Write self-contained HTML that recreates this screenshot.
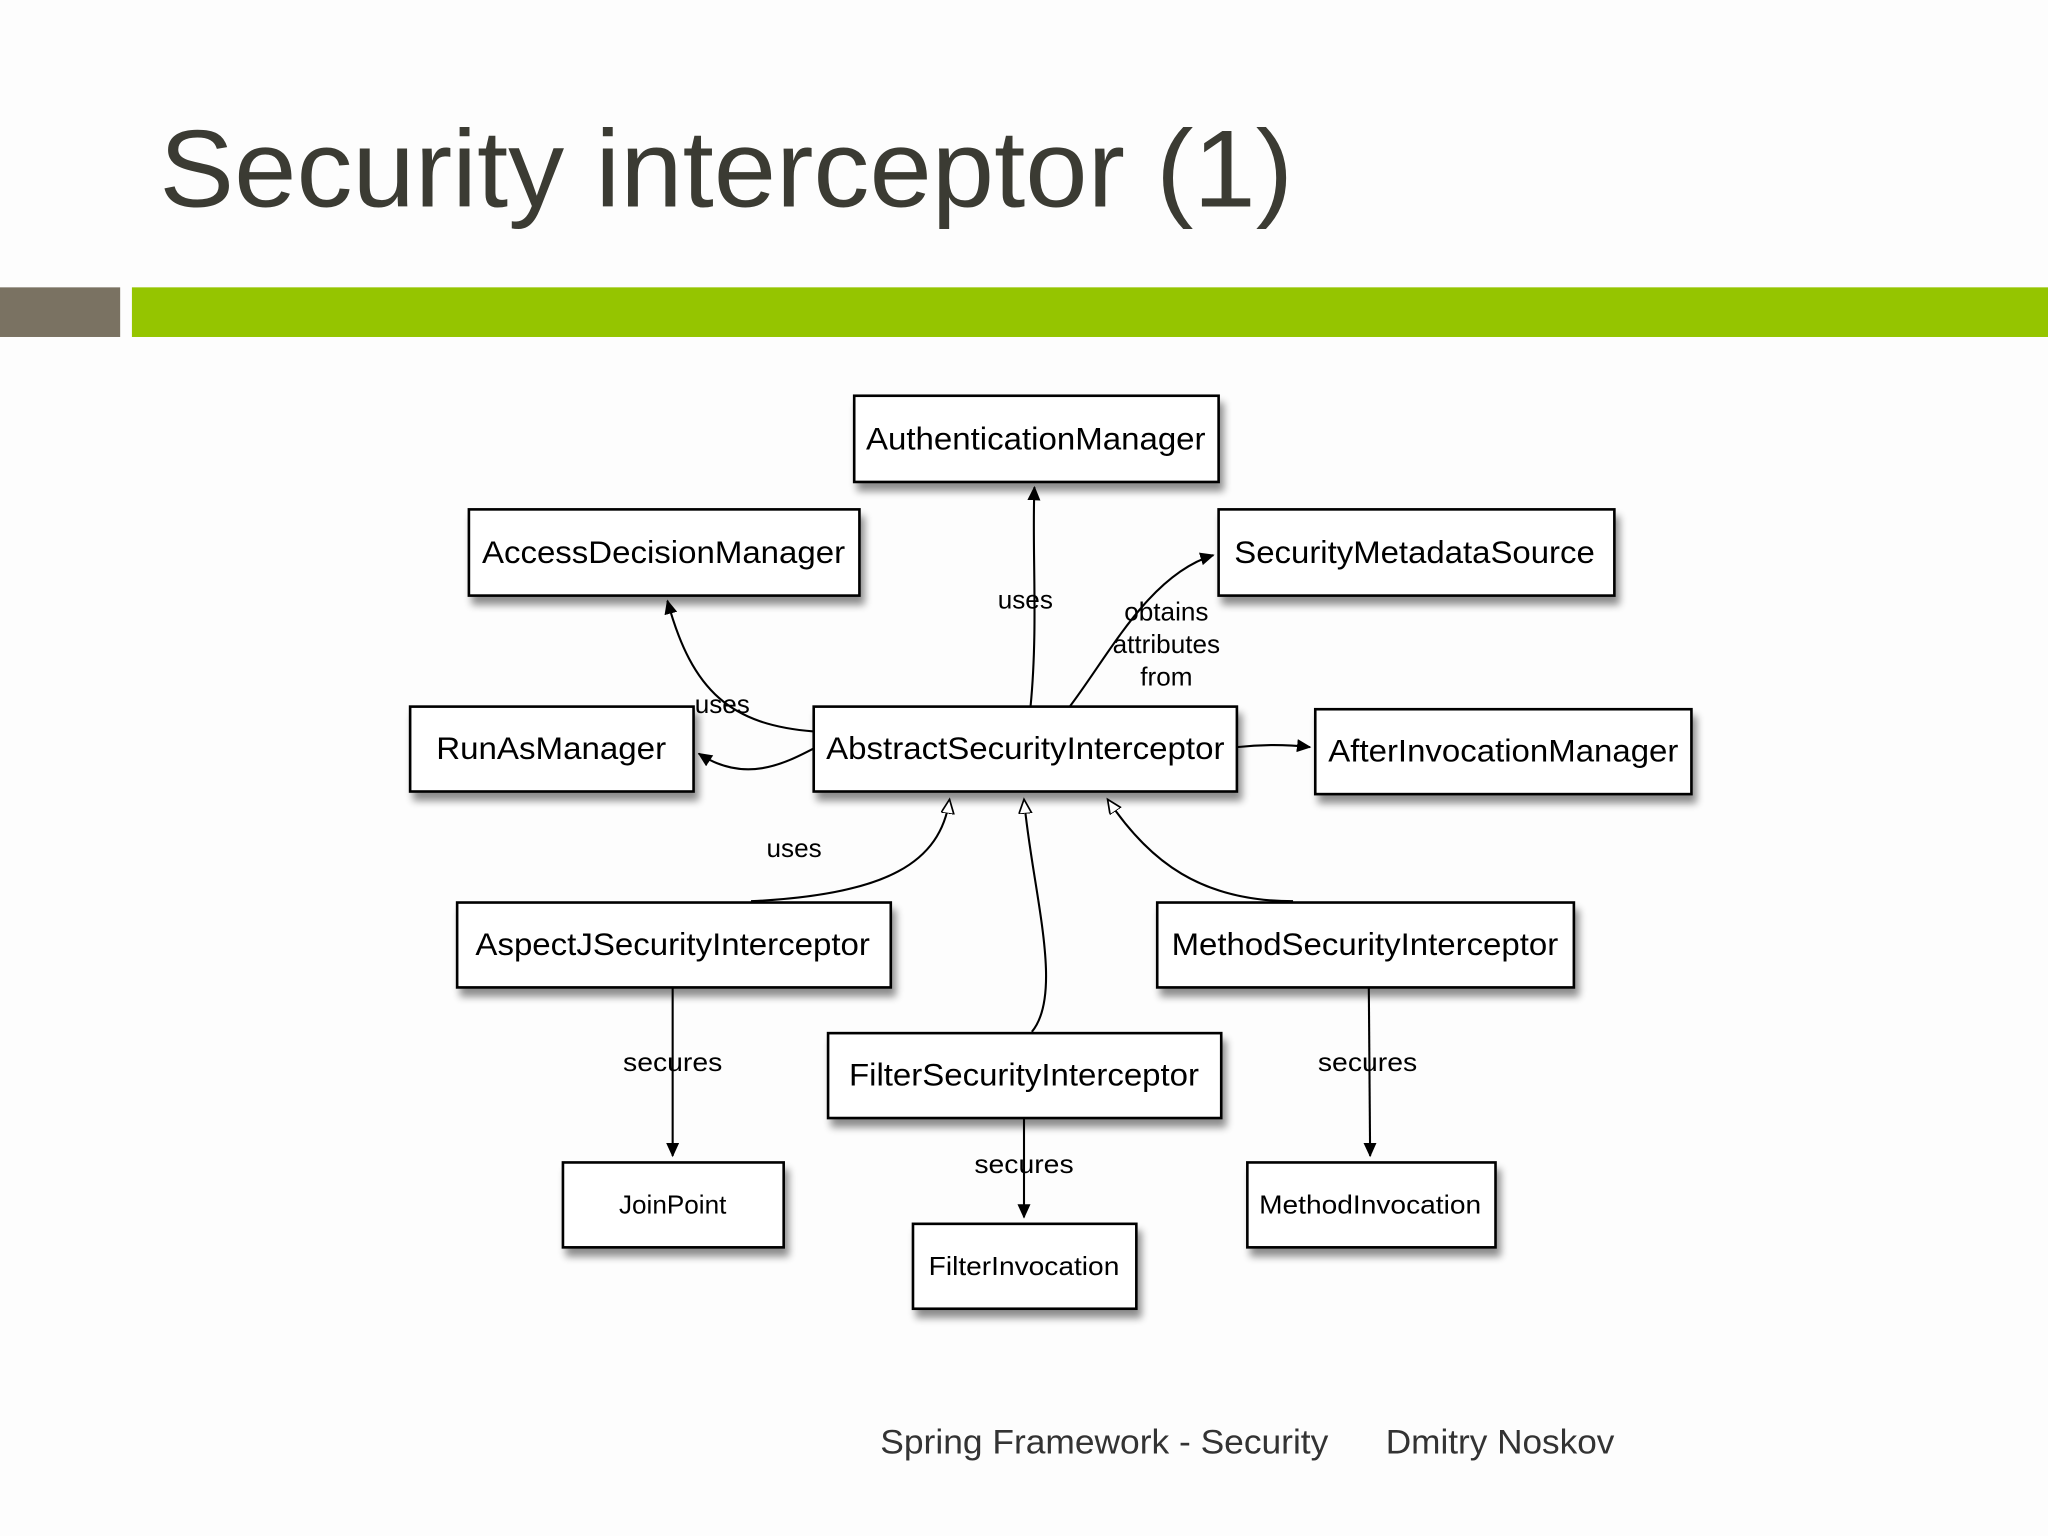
<!DOCTYPE html>
<html><head><meta charset="utf-8"><style>
html,body{margin:0;padding:0;background:#fff;}
svg{display:block;}
text{font-family:"Liberation Sans",sans-serif;}
</style></head><body>
<svg width="2048" height="1536" viewBox="0 0 1568 1176" xmlns="http://www.w3.org/2000/svg">
<defs>
<filter id="sh" x="-10%" y="-20%" width="130%" height="160%">
<feGaussianBlur in="SourceAlpha" stdDeviation="3"/>
<feOffset dx="3" dy="6"/>
<feComponentTransfer><feFuncA type="linear" slope="0.45"/></feComponentTransfer>
<feMerge><feMergeNode/><feMergeNode in="SourceGraphic"/></feMerge>
</filter>
<marker id="af" markerWidth="12" markerHeight="12" refX="10" refY="5" orient="auto" markerUnits="userSpaceOnUse"><path d="M0,0 L11,5 L0,10 z" fill="#000"/></marker>
<marker id="ao" markerWidth="14" markerHeight="14" refX="11" refY="5" orient="auto" markerUnits="userSpaceOnUse"><path d="M0,0 L11,5 L0,10 z" fill="#fff" stroke="#000" stroke-width="1.3"/></marker>
</defs>
<rect width="1568" height="1176" fill="#fdfdfd"/>
<text x="122" y="158" font-size="84" fill="#3b3b33" textLength="868" lengthAdjust="spacingAndGlyphs">Security interceptor (1)</text>
<rect x="0" y="220" width="92" height="38" fill="#7a7262"/>
<rect x="101" y="220" width="1467" height="38" fill="#95c500"/>

<g filter="url(#sh)" fill="#fff" stroke="#000" stroke-width="2">
<rect x="654" y="303" width="279" height="66"/>
<rect x="359" y="390" width="299" height="66"/>
<rect x="933" y="390" width="303" height="66"/>
<rect x="314" y="541" width="217" height="65"/>
<rect x="623" y="541" width="324" height="65"/>
<rect x="1007" y="543" width="288" height="65"/>
<rect x="350" y="691" width="332" height="65"/>
<rect x="886" y="691" width="319" height="65"/>
<rect x="634" y="791" width="301" height="65"/>
<rect x="431" y="890" width="169" height="65"/>
<rect x="699" y="937" width="171" height="65"/>
<rect x="955" y="890" width="190" height="65"/>
</g>

<g font-size="24" text-anchor="middle" fill="#000" lengthAdjust="spacingAndGlyphs">
<text x="793" y="344" textLength="260" lengthAdjust="spacingAndGlyphs">AuthenticationManager</text>
<text x="508" y="431" textLength="278" lengthAdjust="spacingAndGlyphs">AccessDecisionManager</text>
<text x="1083" y="431" textLength="276" lengthAdjust="spacingAndGlyphs">SecurityMetadataSource</text>
<text x="422" y="581" textLength="176" lengthAdjust="spacingAndGlyphs">RunAsManager</text>
<text x="785" y="581" textLength="305" lengthAdjust="spacingAndGlyphs">AbstractSecurityInterceptor</text>
<text x="1151" y="583" textLength="268" lengthAdjust="spacingAndGlyphs">AfterInvocationManager</text>
<text x="515" y="731" textLength="302" lengthAdjust="spacingAndGlyphs">AspectJSecurityInterceptor</text>
<text x="1045" y="731" textLength="296" lengthAdjust="spacingAndGlyphs">MethodSecurityInterceptor</text>
<text x="784" y="831" textLength="268" lengthAdjust="spacingAndGlyphs">FilterSecurityInterceptor</text>
</g>
<g font-size="20" text-anchor="middle" fill="#000">
<text x="515" y="929">JoinPoint</text>
<text x="784" y="976" textLength="146" lengthAdjust="spacingAndGlyphs">FilterInvocation</text>
<text x="1049" y="929" textLength="170" lengthAdjust="spacingAndGlyphs">MethodInvocation</text>
</g>

<g fill="none" stroke="#000" stroke-width="1.6">
<path d="M789,541 C795,480 790,420 792,373" marker-end="url(#af)"/>
<path d="M819,541 C850,500 880,440 929,425" marker-end="url(#af)"/>
<path d="M623,560 C560,555 530,530 511,460" marker-end="url(#af)"/>
<path d="M623,573 C600,585 570,600 535,577" marker-end="url(#af)"/>
<path d="M947,572 C965,570 985,570 1003,572" marker-end="url(#af)"/>
<path d="M575,690 C680,685 720,660 727,612" marker-end="url(#ao)"/>
<path d="M790,790 C815,760 790,680 784,612" marker-end="url(#ao)"/>
<path d="M990,690 C920,690 880,660 848,612" marker-end="url(#ao)"/>
<path d="M515,756 L515,885" marker-end="url(#af)"/>
<path d="M784,856 L784,932" marker-end="url(#af)"/>
<path d="M1048,756 L1049,885" marker-end="url(#af)"/>
</g>

<g font-size="20" text-anchor="middle" fill="#000">
<text x="785" y="466">uses</text>
<text x="893" y="475">obtains</text>
<text x="893" y="500">attributes</text>
<text x="893" y="525">from</text>
<text x="553" y="546">uses</text>
<text x="608" y="656">uses</text>
<text x="515" y="820" textLength="76" lengthAdjust="spacingAndGlyphs">secures</text>
<text x="784" y="898" textLength="76" lengthAdjust="spacingAndGlyphs">secures</text>
<text x="1047" y="820" textLength="76" lengthAdjust="spacingAndGlyphs">secures</text>
</g>

<text x="674" y="1113" font-size="26" fill="#333" textLength="343" lengthAdjust="spacingAndGlyphs">Spring Framework - Security</text>
<text x="1061" y="1113" font-size="26" fill="#333" textLength="175" lengthAdjust="spacingAndGlyphs">Dmitry Noskov</text>
</svg>
</body></html>
